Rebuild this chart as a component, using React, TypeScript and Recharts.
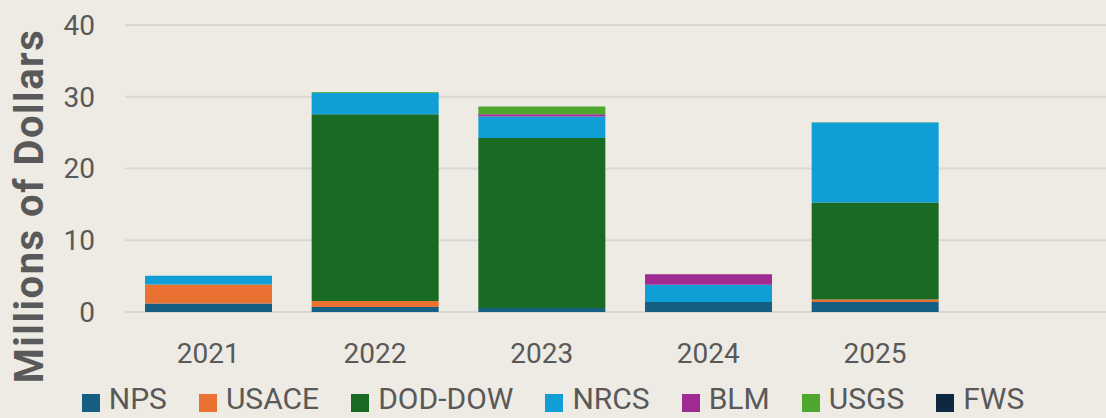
import React from 'react';
import { BarChart, Bar, XAxis, YAxis, CartesianGrid } from 'recharts';

const years = ['2021', '2022', '2023', '2024', '2025', ''];
const nps = [1.2, 0.7, 0.55, 1.4, 1.4, 0];
const usace = [2.65, 0.85, 0, 0, 0.35, 0];
const dodDow = [0, 26.0, 23.7, 0, 13.5, 0];
const nrcs = [1.2, 3.0, 3.0, 2.4, 11.15, 0];
const blm = [0, 0, 0.3, 1.45, 0, 0];
const usgs = [0, 0.1, 1.1, 0, 0.05, 0];
const fws = [0, 0, 0, 0, 0, 0];
const yTicks = [0, 10, 20, 30, 40];

const series = [
  { key: 'NPS', values: nps, color: '#156082' },
  { key: 'USACE', values: usace, color: '#E97132' },
  { key: 'DOD-DOW', values: dodDow, color: '#196B24' },
  { key: 'NRCS', values: nrcs, color: '#0F9ED5' },
  { key: 'BLM', values: blm, color: '#A02B93' },
  { key: 'USGS', values: usgs, color: '#4EA72E' },
  { key: 'FWS', values: fws, color: '#0E2841' },
];

const rows = years.map((year, i) => {
  const row: Record<string, string | number> = { year };
  series.forEach((s) => {
    row[s.key] = s.values[i];
  });
  return row;
});

const FONT = 'Roboto, "Liberation Sans", sans-serif';
const GRAY = '#595959';

export default function App() {
  return (
    <div
      style={{
        position: 'fixed',
        top: 0,
        left: 0,
        width: 1106,
        height: 418,
        overflow: 'hidden',
        background: '#eeeae4',
        fontFamily: FONT,
      }}
    >
      <BarChart
        width={1130}
        height={418}
        data={rows}
        margin={{ top: 25, right: 5, bottom: 46, left: 0 }}
        barSize={127}
      >
        <CartesianGrid vertical={false} stroke="#d9d7d3" strokeWidth={2} />
        <XAxis
          dataKey="year"
          axisLine={false}
          tickLine={false}
          height={60}
          tickMargin={25}
          tick={{ fill: GRAY, fontSize: 28, fontFamily: FONT }}
          interval={0}
        />
        <YAxis
          width={125}
          domain={[0, 40]}
          ticks={yTicks}
          axisLine={false}
          tickLine={false}
          tickMargin={24}
          tick={{ fill: GRAY, fontSize: 28, fontFamily: FONT }}
          label={{
            content: () => (
              <text
                x={0}
                y={0}
                transform="translate(43, 206) rotate(-90)"
                textAnchor="middle"
                fill={GRAY}
                fontSize={40}
                fontWeight={700}
                letterSpacing={1.5}
                fontFamily={FONT}
              >
                Millions of Dollars
              </text>
            ),
          }}
        />
        {series.map((s) => (
          <Bar key={s.key} dataKey={s.key} stackId="a" fill={s.color} isAnimationActive={false} />
        ))}
      </BarChart>
      <div
        style={{
          position: 'absolute',
          top: 386,
          left: 0,
          width: 1106,
          height: 26,
          display: 'flex',
          justifyContent: 'center',
          gap: 32,
          fontSize: 30,
          color: GRAY,
        }}
      >
        {series.map((s) => (
          <div key={s.key} style={{ display: 'flex', alignItems: 'center', gap: 9, height: 26 }}>
            <div style={{ width: 18, height: 18, background: s.color, marginTop: 8 }} />
            <div style={{ lineHeight: '26px', height: 26 }}>{s.key}</div>
          </div>
        ))}
      </div>
    </div>
  );
}
